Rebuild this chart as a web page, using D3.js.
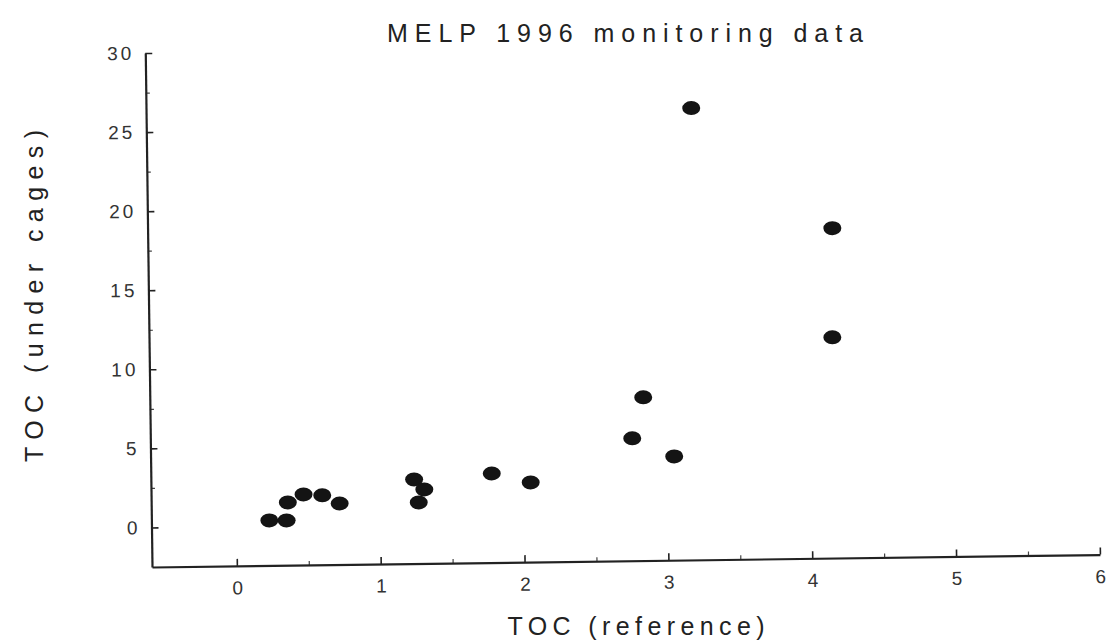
<!DOCTYPE html>
<html>
<head>
<meta charset="utf-8">
<script src="https://cdn.jsdelivr.net/npm/d3@7"></script>
<style>
  body { margin: 0; background: #fff; }
  text { font-family: "Liberation Sans", Arial, sans-serif; fill: #222; }
</style>
</head>
<body>
<div id="chart"></div>
<script>
// TOC (reference) vs TOC (under cages)
var tocRef   = [0.23, 0.35, 0.36, 0.47, 0.60, 0.72, 1.24, 1.31, 1.27, 1.78, 2.05, 2.76, 2.84, 3.05, 3.20, 4.17, 4.16];
var tocCages = [0.35, 0.33, 1.47, 1.96, 1.89, 1.36, 2.82, 2.18, 1.36, 3.13, 2.53, 5.24, 7.82, 4.06, 26.07, 18.36, 11.46];
var xTicks = [0, 1, 2, 3, 4, 5, 6];
var yTicks = [0, 5, 10, 15, 20, 25, 30];

var width = 1109, height = 642;
var originX = 152, originY = 567; // bottom-left corner of the axes
var tilt = -0.75; // the scan is slightly rotated

var svg = d3.select('#chart').append('svg')
    .attr('width', width)
    .attr('height', height);

var x = d3.scaleLinear().domain([-0.59, 6]).range([0, 948]);
var y = d3.scaleLinear().domain([-2.5, 30]).range([0, -514]);

var plot = svg.append('g')
    .attr('transform', 'translate(' + originX + ',' + originY + ') rotate(' + tilt + ')');

/* minor ticks */
plot.append('g')
    .call(d3.axisBottom(x).tickValues(d3.range(0.5, 6, 1)).tickSize(-4).tickFormat(''))
    .call(function(g){ g.select('.domain').remove(); })
    .selectAll('line').attr('stroke', '#444').attr('stroke-width', 1.2);
plot.append('g')
    .call(d3.axisLeft(y).tickValues(d3.range(2.5, 30, 5)).tickSize(-4).tickFormat(''))
    .call(function(g){ g.select('.domain').remove(); })
    .selectAll('line').attr('stroke', '#444').attr('stroke-width', 1.2);

/* main axes, ticks pointing inward */
var xAxis = plot.append('g')
    .call(d3.axisBottom(x).tickValues(xTicks).tickFormat(d3.format('d'))
        .tickSize(-7).tickSizeOuter(0).tickPadding(15));
var yAxis = plot.append('g')
    .call(d3.axisLeft(y).tickValues(yTicks).tickFormat(d3.format('d'))
        .tickSize(-7).tickSizeOuter(0).tickPadding(14));

[xAxis, yAxis].forEach(function(a){
    a.select('.domain').attr('stroke', '#222').attr('stroke-width', 2.2);
    a.selectAll('.tick line').attr('stroke', '#222').attr('stroke-width', 1.6);
    a.selectAll('.tick text')
        .attr('font-size', 19)
        .style('letter-spacing', '3px')
        .style('fill', '#333');
});
yAxis.selectAll('.tick text').attr('dx', '3px');
xAxis.selectAll('.tick text').attr('dx', '1.5px');

/* the points */
var pts = tocRef.map(function(d, i){ return { x: d, y: tocCages[i] }; });
plot.selectAll('.pt')
    .data(pts).enter()
    .append('ellipse').attr('class', 'pt')
    .attr('cx', function(d){ return x(d.x); })
    .attr('cy', function(d){ return y(d.y); })
    .attr('rx', 9)
    .attr('ry', 7)
    .style('fill', '#141414');

/* titles */
svg.append('text')
    .attr('x', 625).attr('y', 42)
    .attr('text-anchor', 'middle')
    .attr('font-size', 25)
    .attr('textLength', 476).attr('lengthAdjust', 'spacing')
    .text('MELP 1996 monitoring data');

svg.append('text')
    .attr('x', 636).attr('y', 635)
    .attr('text-anchor', 'middle')
    .attr('font-size', 25)
    .attr('textLength', 257).attr('lengthAdjust', 'spacing')
    .text('TOC (reference)');

svg.append('text')
    .attr('transform', 'translate(43,296) rotate(-90)')
    .attr('text-anchor', 'middle')
    .attr('font-size', 25)
    .attr('textLength', 332).attr('lengthAdjust', 'spacing')
    .text('TOC (under cages)');
</script>
</body>
</html>
